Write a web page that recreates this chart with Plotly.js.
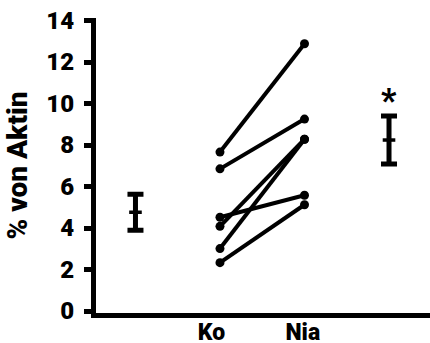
<!DOCTYPE html>
<html>
<head>
<meta charset="utf-8">
<script src="https://cdn.plot.ly/plotly-3.0.1.min.js"></script>
<style>html,body{margin:0;padding:0;background:#fff;}#chart{width:430px;height:343px;}</style>
</head>
<body>
<div id="chart"></div>
<script>
// x positions: 0 = Ko summary (mean ± SEM), 1 = Ko, 2 = Nia, 3 = Nia summary
const categories = ["Ko", "Nia"];
const koValues  = [7.66, 6.85, 4.52, 4.08, 3.01, 2.33];
const niaValues = [12.88, 9.25, 5.58, 8.28, 8.28, 5.12];
const summaryX = [0, 3];
const summaryMean = [4.76, 8.24];
const summaryErr = [0.87, 1.16];
const yTicks = [0, 2, 4, 6, 8, 10, 12, 14];

const FONT = 'Roboto, "Liberation Sans", Arial, sans-serif';
const traces = [];
for (let i = 0; i < koValues.length; i++) {
  traces.push({
    x: [1, 2], y: [koValues[i], niaValues[i]],
    mode: 'lines+markers', type: 'scatter',
    line: {color: '#000', width: 4},
    marker: {color: '#000', size: 9},
    showlegend: false, hoverinfo: 'skip', cliponaxis: false
  });
}
traces.push({
  x: summaryX, y: summaryMean, mode: 'markers', type: 'scatter',
  marker: {symbol: 'line-ew-open', size: 9, color: '#000', line: {color: '#000', width: 3.5}},
  error_y: {type: 'data', array: summaryErr, visible: true, color: '#000', thickness: 5, width: 8},
  showlegend: false, hoverinfo: 'skip'
});

const layout = {
  width: 430, height: 343,
  margin: {l: 96, r: 0, t: 18, b: 30},
  paper_bgcolor: '#fff', plot_bgcolor: '#fff',
  font: {family: FONT, color: '#000', size: 22, weight: 900},
  xaxis: {
    range: [-0.467, 3.485], showgrid: false, zeroline: false,
    showline: true, linecolor: '#000', linewidth: 5,
    tickmode: 'array', tickvals: [0.9, 1.98], ticktext: categories,
    ticks: '', ticklabelstandoff: -6,
    tickfont: {size: 23, family: FONT, color: '#000', weight: 900}
  },
  yaxis: {
    range: [-0.095, 14.12], showgrid: false, zeroline: false,
    showline: true, linecolor: '#000', linewidth: 5,
    tickmode: 'array', tickvals: yTicks, ticktext: yTicks.map(String),
    ticks: 'outside', ticklen: 7, tickwidth: 4.5, tickcolor: '#000', ticklabelstandoff: 5,
    tickfont: {size: 24, family: FONT, color: '#000', weight: 900},
    title: {text: '% von Aktin', font: {size: 28, family: FONT, color: '#000', weight: 900}, standoff: 12}
  },
  annotations: [{
    x: 3, y: 10.15, xref: 'x', yref: 'y', text: '*', showarrow: false,
    font: {size: 33, family: FONT, color: '#000', weight: 900},
    xanchor: 'center', yanchor: 'middle'
  }]
};

Plotly.newPlot('chart', traces, layout, {displayModeBar: false});
</script>
</body>
</html>
